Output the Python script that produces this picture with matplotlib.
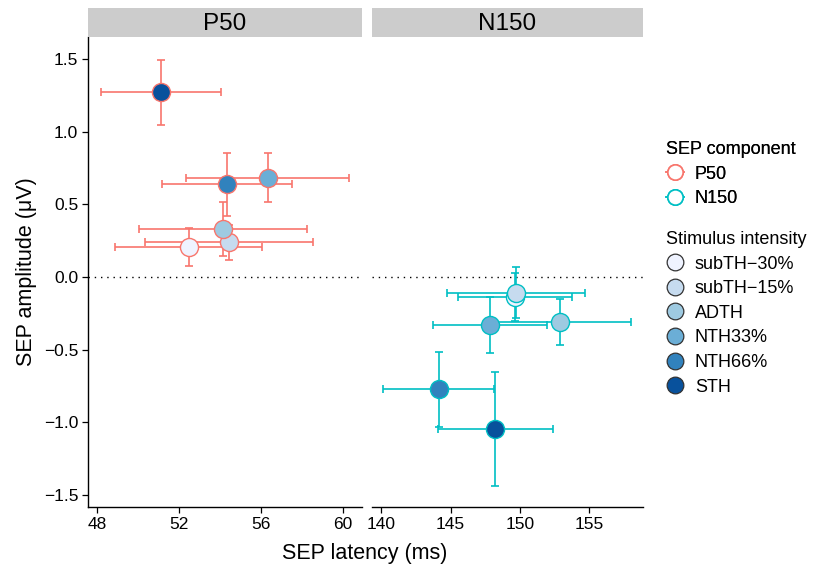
import matplotlib
matplotlib.use("Agg")
import matplotlib.pyplot as plt
from matplotlib.lines import Line2D

plt.rcParams["font.family"] = ["Liberation Sans", "DejaVu Sans"]

intensities = ["subTH\u221230%", "subTH\u221215%", "ADTH", "NTH33%", "NTH66%", "STH"]
fills = ["#EFF3FF", "#C6DBEF", "#9ECAE1", "#6BAED6", "#3182BD", "#08519C"]
components = ["P50", "N150"]
comp_colors = {"P50": "#F8766D", "N150": "#00BFC4"}

# P50: latency mean / sd, amplitude mean / sd (order = intensities)
p50_lat = [52.47, 54.44, 54.13, 56.33, 54.34, 51.12]
p50_lat_err = [3.58, 4.08, 4.10, 3.97, 3.16, 2.93]
p50_amp = [0.207, 0.238, 0.332, 0.685, 0.639, 1.274]
p50_amp_err = [0.128, 0.124, 0.186, 0.168, 0.216, 0.225]

# N150
n150_lat = [149.62, 149.71, 152.90, 147.84, 144.15, 148.22]
n150_lat_err = [4.10, 4.97, 5.09, 4.10, 4.00, 4.13]
n150_amp = [-0.136, -0.108, -0.310, -0.331, -0.775, -1.048]
n150_amp_err = [0.164, 0.174, 0.160, 0.190, 0.257, 0.392]

y_ticks = [-1.5, -1.0, -0.5, 0.0, 0.5, 1.0, 1.5]
p50_xticks = [48, 52, 56, 60]
n150_xticks = [140, 145, 150, 155]

data = {
    "P50": (p50_lat, p50_lat_err, p50_amp, p50_amp_err, p50_xticks, (47.56, 60.93)),
    "N150": (n150_lat, n150_lat_err, n150_amp, n150_amp_err, n150_xticks, (139.35, 158.85)),
}

W, H = 815, 568
fig = plt.figure(figsize=(W / 100, H / 100), dpi=100)

panel_px = {"P50": (88, 362), "N150": (372, 643)}
top_px, bot_px, strip_top = 37, 507, 8

for i, comp in enumerate(components):
    lat, lat_err, amp, amp_err, xt, xlim = data[comp]
    l, r = panel_px[comp]
    ax = fig.add_axes([l / W, 1 - bot_px / H, (r - l) / W, (bot_px - top_px) / H])
    col = comp_colors[comp]
    ax.axhline(0, color="black", lw=1.0, linestyle=(0, (1, 3.5)), zorder=1)
    for k in range(len(intensities)):
        ax.errorbar(lat[k], amp[k], xerr=lat_err[k], yerr=amp_err[k], fmt="none",
                    ecolor=col, elinewidth=1.2, capsize=3, capthick=1.2, zorder=2)
    for k in range(len(intensities)):
        ax.plot(lat[k], amp[k], "o", ms=13, mfc=fills[k], mec=col, mew=1.0, zorder=3)
    ax.set_xlim(*xlim)
    ax.set_ylim(-1.586, 1.655)
    ax.set_xticks(xt)
    ax.set_xticklabels([str(v) for v in xt])
    ax.set_yticks(y_ticks)
    for s in ["top", "right"]:
        ax.spines[s].set_visible(False)
    ax.spines["bottom"].set_linewidth(1.0)
    ax.spines["left"].set_linewidth(1.0)
    ax.tick_params(labelsize=12.5, length=4, width=0.9, colors="black", pad=3)
    if i == 0:
        ax.set_yticklabels([f"{v:.1f}".replace("-", "\u2212") for v in y_ticks])
        ax.set_ylabel("SEP amplitude (\u03bcV)", fontsize=15.5, labelpad=5)
    else:
        ax.spines["left"].set_visible(False)
        ax.tick_params(axis="y", left=False, labelleft=False)

    sax = fig.add_axes([l / W, 1 - top_px / H, (r - l) / W, (top_px - strip_top) / H])
    sax.set_facecolor("#CCCCCC")
    sax.set_xticks([])
    sax.set_yticks([])
    for s in sax.spines.values():
        s.set_visible(False)
    sax.text(0.5, 0.45, comp, ha="center", va="center", fontsize=17.5, transform=sax.transAxes)

fig.text(365 / W, 1 - 553 / H, "SEP latency (ms)", ha="center", va="center", fontsize=15.5)

comp_handles = [Line2D([], [], color=comp_colors[c], marker="o", mfc="white", mec=comp_colors[c],
                       ms=11, mew=1.2, lw=1.2) for c in components]
leg1 = fig.legend(comp_handles, components, title="SEP component", loc="upper left",
                  bbox_to_anchor=(666 / W, 1 - 141 / H), frameon=False, fontsize=13,
                  title_fontsize=13, handlelength=1.0, handletextpad=0.6, labelspacing=0.42,
                  borderaxespad=0, borderpad=0)
leg1._legend_box.align = "left"
fig.add_artist(leg1)

int_handles = [Line2D([], [], linestyle="none", marker="o", mfc=f, mec="#333333", ms=12, mew=0.9)
               for f in fills]
leg2 = fig.legend(int_handles, intensities, title="Stimulus intensity", loc="upper left",
                  bbox_to_anchor=(666 / W, 1 - 231 / H), frameon=False, fontsize=13,
                  title_fontsize=13, handlelength=1.0, handletextpad=0.6, labelspacing=0.42,
                  borderaxespad=0, borderpad=0)
leg2._legend_box.align = "left"

fig.savefig("out.png", dpi=100)
